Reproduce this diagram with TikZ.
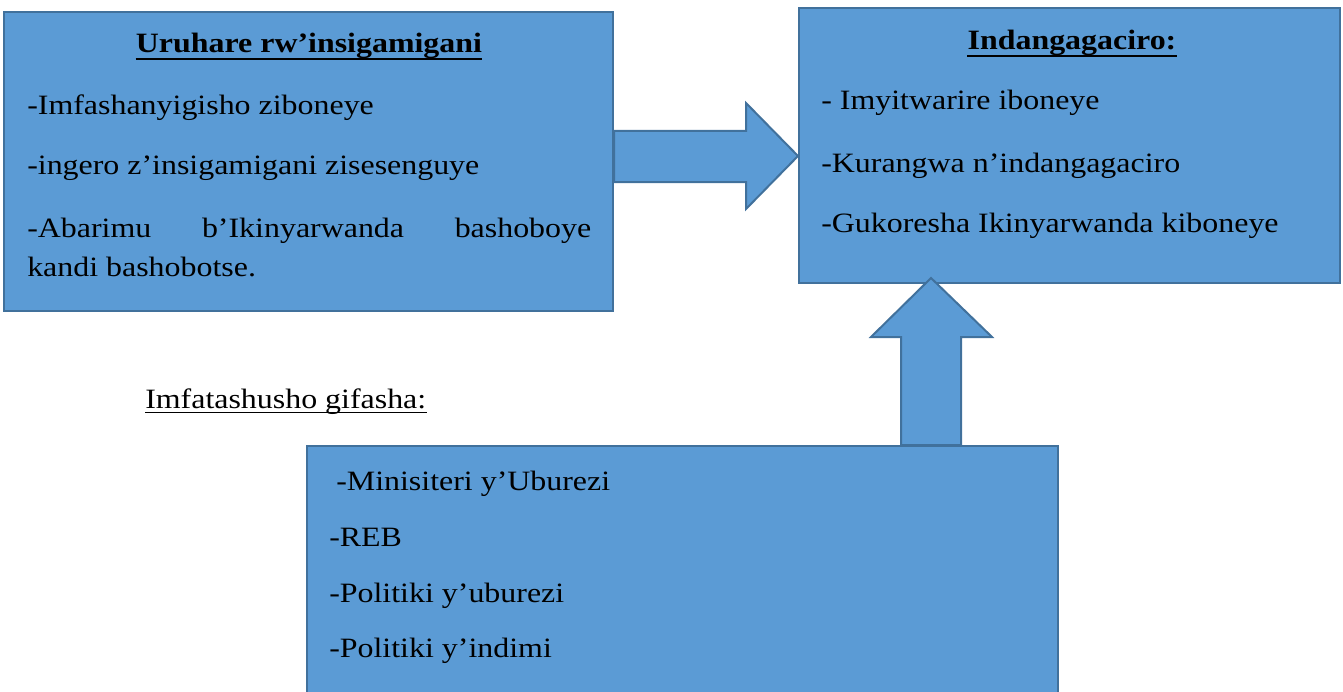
\documentclass[tikz,border=0pt]{standalone}
\usepackage{fontspec}
\setmainfont{Liberation Serif}[FakeStretch=1.14]
\usepackage{xcolor}
\usepackage{tikz}
\usetikzlibrary{fit,calc}
\definecolor{boxfill}{HTML}{5B9BD5}
\definecolor{boxline}{HTML}{41719C}

\begin{document}
\begin{tikzpicture}[x=0.75pt,y=0.75pt,yscale=-1,xscale=1,
  box/.style={draw=boxline,fill=boxfill,line width=1.5,rectangle,inner sep=0pt},
  bigarrow/.style={draw=boxline,fill=boxfill,line width=1.5,line join=miter},
  txt/.style={anchor=base west,inner sep=0pt,font=\fontsize{21}{25}\selectfont},
  ttl/.style={anchor=base,inner sep=0pt,font=\fontsize{21}{25}\selectfont\bfseries},
  ul/.style={line width=1.8}]
\useasboundingbox (0,0) rectangle (1343,692);
\clip (0,0) rectangle (1343,692);
%Boxes
\node [box, fit={(4,12) (613,311)}] (uruhare) {};
\node [box, fit={(799,8) (1340,283)}] (indangagaciro) {};
\node [box, fit={(307,446) (1058,710)}] (gifasha) {};
%Right arrow
\draw [bigarrow] (uruhare.east |- 0,131) -- (746,131) -- (746,103) -- (indangagaciro.west |- 0,156) -- (746,209) -- (746,182) -- (uruhare.east |- 0,182) -- cycle ;
%Up arrow
\draw [bigarrow] (gifasha.north -| 901,0) -- (901,337) -- (871,337) -- (931,278) -- (992,337) -- (961,337) -- (gifasha.north -| 961,0) -- cycle ;
% Text Node
\node [ttl] (t1) at (309,53) {Uruhare rw’insigamigani};
\draw [ul] ([yshift=4.3pt]t1.base west) -- ([yshift=4.3pt]t1.base east) ;
\node [txt] (u1) at (27,115) {-Imfashanyigisho ziboneye};
\node [txt] (u2) at (27,175) {-ingero z’insigamigani zisesenguye};
\node [txt] (u3) at (27,237) {\makebox[423pt][s]{-Abarimu b’Ikinyarwanda bashoboye}};
\node [txt] (u4) at (27,276) {kandi bashobotse.};
% Text Node
\node [ttl] (t2) at (1072,50) {Indangagaciro:};
\draw [ul] ([yshift=4.3pt]t2.base west) -- ([yshift=4.3pt]t2.base east) ;
\node [txt] (i1) at (821,109) {- Imyitwarire iboneye};
\node [txt] (i2) at (821,172) {-Kurangwa n’indangagaciro};
\node [txt] (i3) at (821,232) {-Gukoresha Ikinyarwanda kiboneye};
% Text Node
\node [txt] (imfatashusho) at (145,408) {Imfatashusho gifasha:};
\draw [line width=0.9] ([yshift=3.5pt]imfatashusho.base west) -- ([yshift=3.5pt]imfatashusho.base east) ;
\node [txt] (g1) at (336,490) {-Minisiteri y’Uburezi};
\node [txt] (g2) at (329,546) {-REB};
\node [txt] (g3) at (329,602) {-Politiki y’uburezi};
\node [txt] (g4) at (329,657) {-Politiki y’indimi};
\end{tikzpicture}
\end{document}
